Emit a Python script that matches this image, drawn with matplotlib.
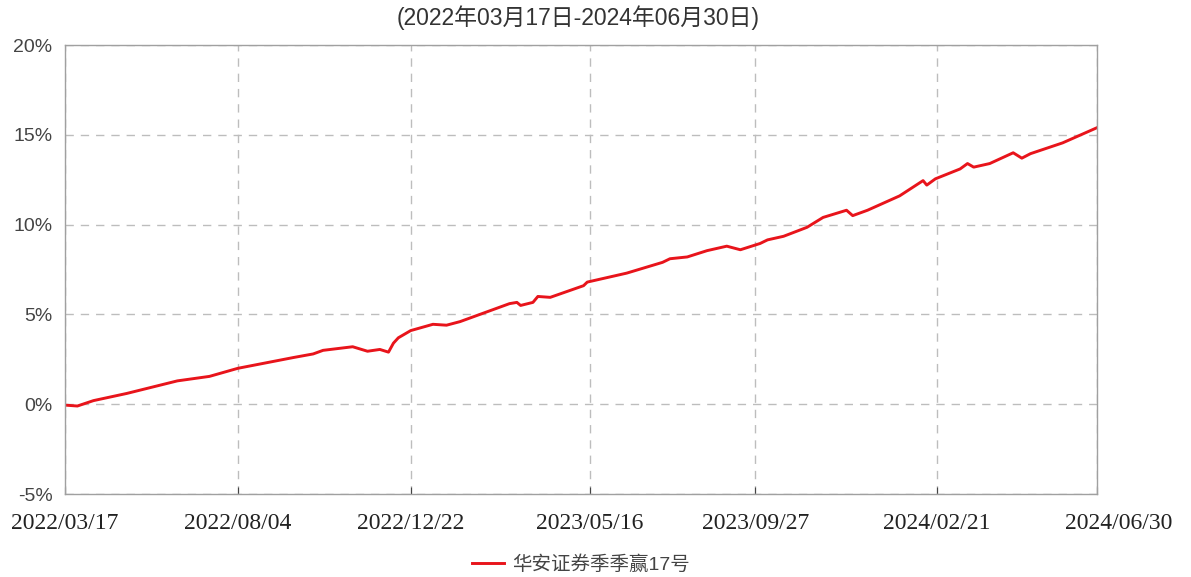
import numpy as np
import pandas as pd
import matplotlib
matplotlib.use("Agg")
import matplotlib.pyplot as plt
import matplotlib.ticker as mticker
import matplotlib.transforms as mtrans

# cumulative return of the fund (%)
dates = ["2022-03-17", "2022-03-27", "2022-04-09", "2022-05-06", "2022-06-16",
         "2022-07-12", "2022-08-04", "2022-09-18", "2022-10-04", "2022-10-12",
         "2022-11-05", "2022-11-17", "2022-11-27", "2022-12-04", "2022-12-08",
         "2022-12-12", "2022-12-22", "2023-01-09", "2023-01-20", "2023-01-31",
         "2023-03-12", "2023-03-18", "2023-03-21", "2023-03-31", "2023-04-04",
         "2023-04-14", "2023-05-11", "2023-05-14", "2023-06-15", "2023-07-14",
         "2023-07-20", "2023-08-03", "2023-08-19", "2023-09-04", "2023-09-15",
         "2023-10-01", "2023-10-07", "2023-10-20", "2023-11-08", "2023-11-21",
         "2023-12-10", "2023-12-15", "2023-12-27", "2024-01-22", "2024-02-10",
         "2024-02-13", "2024-02-20", "2024-03-11", "2024-03-17", "2024-03-22",
         "2024-04-04", "2024-04-23", "2024-04-30", "2024-05-07", "2024-06-02",
         "2024-06-30"]
returns = [-0.05, -0.1, 0.2, 0.6, 1.3,
           1.55, 2.0, 2.6, 2.8, 3.0,
           3.2, 2.95, 3.05, 2.9, 3.4,
           3.7, 4.1, 4.45, 4.4, 4.6,
           5.6, 5.67, 5.5, 5.67, 6.0,
           5.95, 6.6, 6.8, 7.3, 7.9,
           8.1, 8.2, 8.55, 8.8, 8.6,
           8.95, 9.15, 9.35, 9.85, 10.4,
           10.8, 10.5, 10.8, 11.6, 12.45,
           12.2, 12.55, 13.1, 13.4, 13.2,
           13.4, 14.0, 13.7, 13.95, 14.55,
           15.4]

tick_dates = ["2022/03/17", "2022/08/04", "2022/12/22", "2023/05/16",
              "2023/09/27", "2024/02/21", "2024/06/30"]
y_ticks = [-5, 0, 5, 10, 15, 20]

title = "(2022年03月17日-2024年06月30日)"
series_name = "华安证券季季赢17号"

cjk = ["Liberation Sans", "Noto Sans CJK SC", "DejaVu Sans"]

x = pd.to_datetime(dates)
fig = plt.figure(figsize=(11.91, 5.77), dpi=100)
ax = fig.add_axes([0.0546, 0.1438, 0.8666, 0.7782])

ax.plot(x, returns, color="#e8141b", linewidth=2.1, label=series_name)

ax.set_ylim(-5, 20)
ax.set_yticks(y_ticks)
ax.yaxis.set_major_formatter(mticker.FuncFormatter(lambda v, p: "%d%%" % v))
ax.set_xlim(pd.Timestamp("2022-03-17"), pd.Timestamp("2024-06-30"))
tk = pd.to_datetime(tick_dates, format="%Y/%m/%d")
ax.set_xticks(tk)
ax.set_xticklabels(tick_dates)

ax.grid(True, color="#bdbdbd", linestyle=(0, (6, 5)), linewidth=1.0)
for s in ax.spines.values():
    s.set_color("#a0a0a0")
    s.set_linewidth(1.0)

ax.tick_params(axis="x", direction="in", length=5, color="#444444", pad=14,
               labelsize=17, labelcolor="#222222")
ax.tick_params(axis="y", length=0, pad=9, labelsize=14, labelcolor="#444444")
for lab in ax.get_xticklabels():
    lab.set_family(["Liberation Serif"])
for lab in ax.get_yticklabels():
    lab.set_family(["Liberation Sans"])
# last date label sits to the right of the frame end, left aligned
xl = ax.get_xticklabels()
xl[-1].set_horizontalalignment("left")
xl[-1].set_transform(xl[-1].get_transform() + mtrans.ScaledTranslation(-0.32, 0, fig.dpi_scale_trans))

fig.text(0.485, 0.97, title, ha="center", va="center", fontsize=16.5,
         color="#333333", family=cjk)

leg = ax.legend(loc="center", bbox_to_anchor=(0.5, -0.158), frameon=False,
                prop={"family": cjk, "size": 14}, handlelength=1.65, handletextpad=0.4)
for t in leg.get_texts():
    t.set_color("#444444")

fig.savefig("out.png", dpi=100)
